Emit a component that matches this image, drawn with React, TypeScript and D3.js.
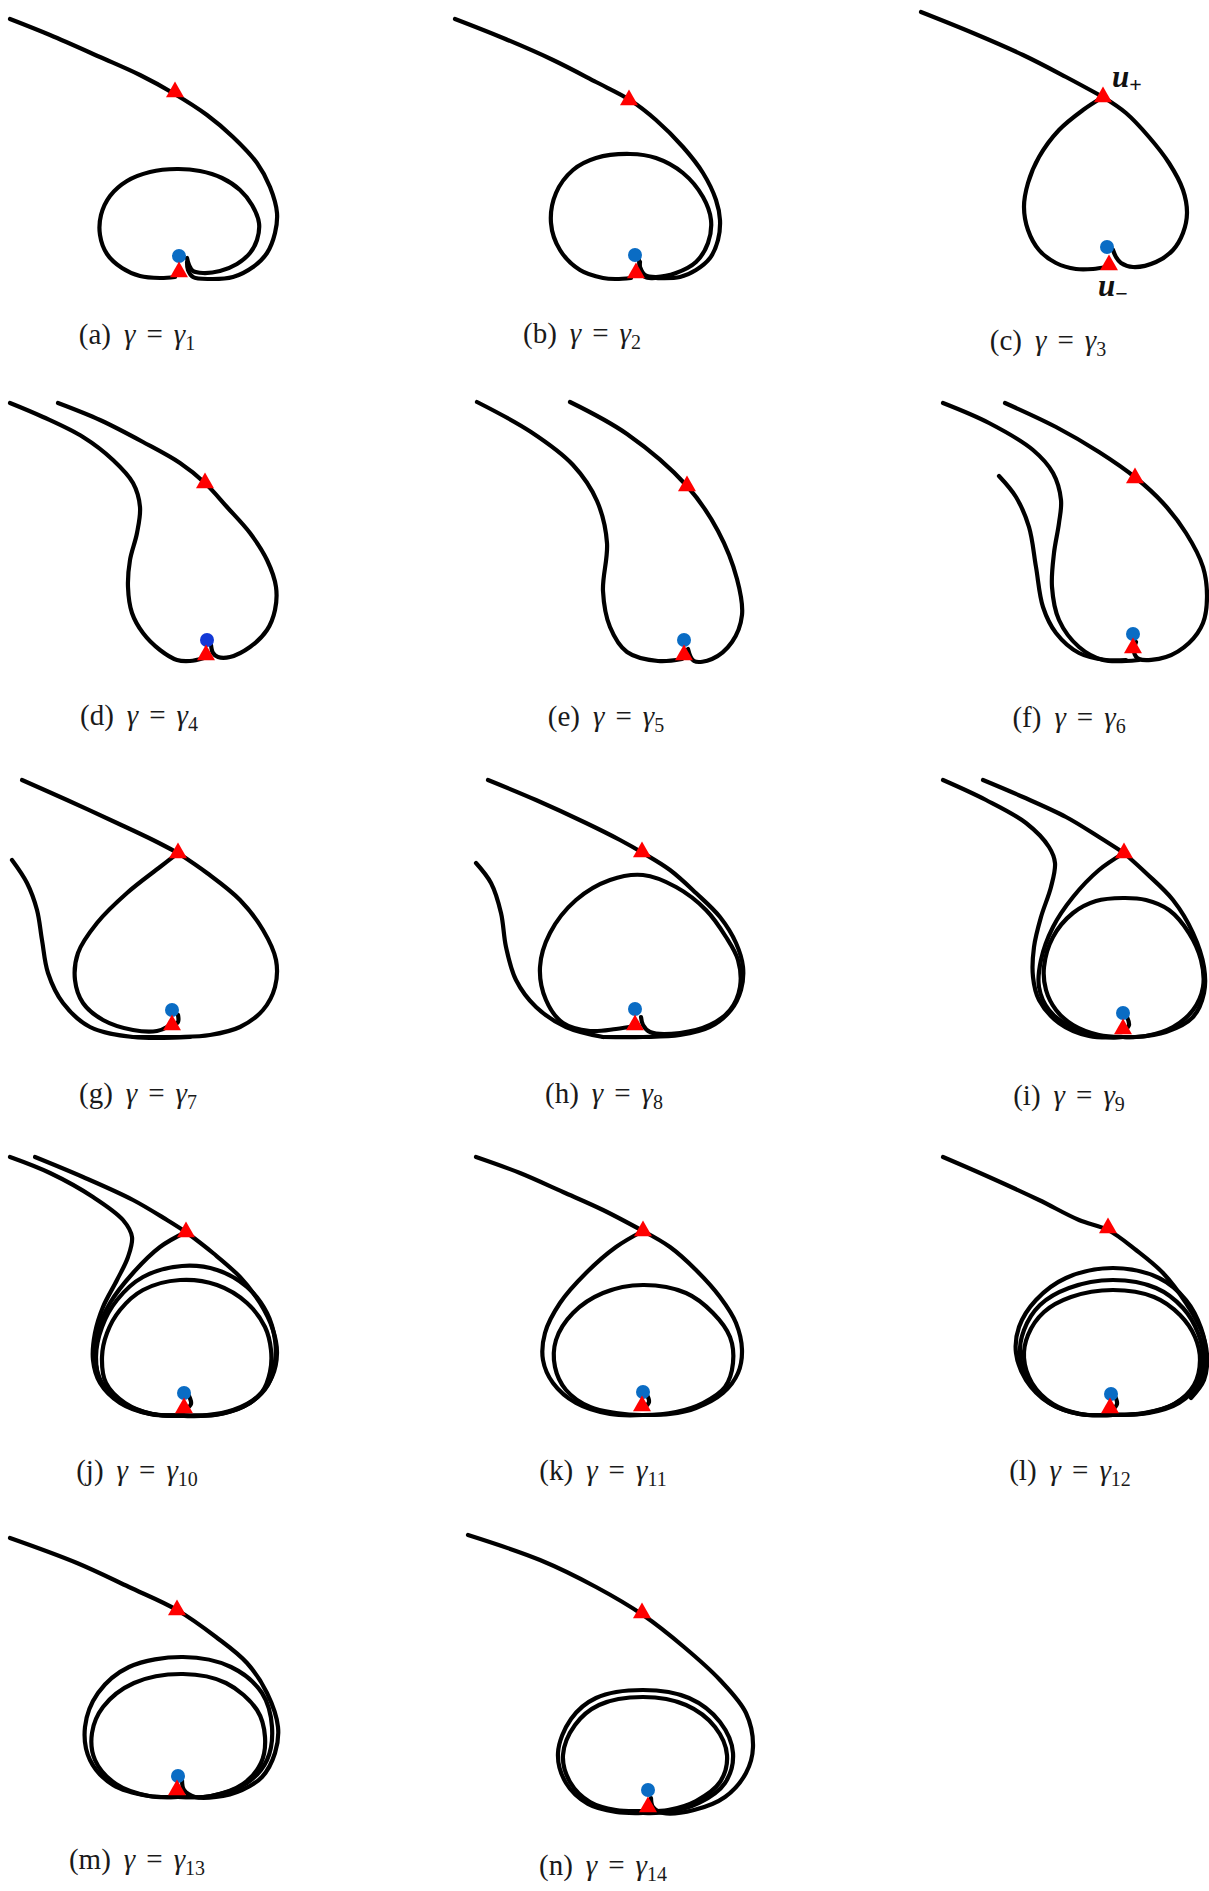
import React from "react";
import * as d3 from "d3";

type Pt = [number, number];

// ---- data: trajectories per panel (panel-local phase-plane units) ----
// (a)
const a_outer: Pt[] = [[10,19],[50,35],[100,57],[140,75],[173,93],[207,115],[233,137],[257,163],[270,187],[277,213],[275,233],[267,253],[253,267],[233,277],[210,279],[193,277],[188,270],[187,262]];
const a_inner: Pt[] = [[175,277],[160,278],[140,276],[122,268],[107,254],[100,235],[101,215],[110,196],[127,181],[150,172],[177,169],[200,171],[222,178],[240,190],[252,205],[259,223],[257,240],[250,253],[237,264],[220,271],[203,273],[193,271],[189,265],[187,258]];
const a_dot: Pt = [179,256];
const a_tris: Pt[] = [[175,92],[179,272]];
// (b)
const b_outer: Pt[] = [[52,19],[100,38],[150,60],[193,82],[227,100],[253,120],[280,147],[300,173],[313,200],[317,220],[315,240],[307,258],[293,270],[277,277],[253,278],[242,277],[237,268],[237,262]];
const b_inner: Pt[] = [[228,278],[213,279],[200,278],[177,270],[157,250],[148,223],[153,193],[170,170],[193,158],[227,154],[253,158],[280,173],[300,197],[308,220],[305,243],[293,262],[273,273],[253,277],[242,275],[237,267],[236,260]];
const b_dot: Pt = [232,255];
const b_tris: Pt[] = [[226,100],[233,273]];
// (c)
const c_in: Pt[] = [[115,12],[167,33],[217,55],[260,77],[297,97]];
const c_right: Pt[] = [[297,97],[320,113],[343,137],[363,163],[377,190],[381,213],[377,233],[367,250],[350,262],[327,267],[315,263],[310,257],[307,250]];
const c_left: Pt[] = [[297,97],[277,110],[253,130],[233,157],[222,183],[218,207],[222,230],[233,250],[250,263],[270,269],[287,269],[300,267]];
const c_dot: Pt = [301,247];
const c_tris: Pt[] = [[297,97],[303,265]];
// (d)
const d_right: Pt[] = [[58,23],[100,40],[143,62],[180,83],[205,103],[227,127],[250,153],[267,180],[276,207],[275,230],[267,250],[250,267],[230,277],[218,277],[213,273],[211,265]];
const d_left: Pt[] = [[10,23],[43,37],[83,57],[113,80],[133,103],[140,127],[137,153],[130,180],[128,207],[132,233],[143,253],[160,270],[177,280],[190,281],[204,278]];
const d_dot: Pt = [207,260];
const d_tris: Pt[] = [[205,103],[206,275]];
// (e)
const e_left: Pt[] = [[74,22],[128,52],[170,85],[194,121],[204,163],[200,211],[207,247],[224,272],[255,281],[279,279]];
const e_right: Pt[] = [[167,22],[224,54],[284,106],[315,151],[334,199],[339,235],[329,262],[309,279],[291,281],[285,269]];
const e_dot: Pt = [281,260];
const e_tris: Pt[] = [[284,106],[281,275]];
// (f)
const f_right: Pt[] = [[199,23],[250,47],[293,72],[330,98],[357,123],[380,153],[397,187],[401,217],[397,243],[383,263],[360,277],[333,279],[328,272],[330,262]];
const f_mid: Pt[] = [[137,23],[183,43],[227,70],[247,93],[255,120],[253,143],[248,173],[246,207],[253,240],[273,267],[297,280],[320,281],[333,280]];
const f_inner: Pt[] = [[193,96],[210,117],[223,147],[230,187],[237,227],[250,253],[273,273],[300,280],[320,280]];
const f_dot: Pt = [327,254];
const f_tris: Pt[] = [[329,98],[327,268]];
// (g)
const g_in: Pt[] = [[22,20],[67,40],[117,63],[153,80],[178,93]];
const g_right: Pt[] = [[178,93],[207,113],[240,140],[263,170],[276,200],[275,227],[263,250],[240,267],[210,275],[180,277],[150,277],[133,277]];
const g_left: Pt[] = [[178,93],[160,107],[127,133],[97,163],[78,193],[75,220],[83,243],[103,260],[133,270],[157,271],[167,267],[172,262]];
const g_far: Pt[] = [[12,100],[27,123],[37,150],[42,180],[48,213],[63,243],[90,267],[133,277],[190,277]];
const g_hook: Pt[] = [[172,266],[178,262],[178,255]];
const g_dot: Pt = [172,250];
const g_tris: Pt[] = [[178,93],[172,265]];
// (h)
const h_top: Pt[] = [[85,20],[133,40],[183,63],[217,80],[240,93],[267,110],[293,133],[317,157],[333,183],[340,207],[338,230],[328,250],[307,267],[277,275],[240,277],[200,277]];
const h_far: Pt[] = [[73,103],[88,123],[98,153],[103,187],[113,220],[133,247],[163,267],[200,277]];
const h_loop: Pt[] = [[232,266],[213,269],[187,271],[160,263],[143,240],[137,207],[147,173],[173,140],[207,120],[240,115],[273,127],[303,150],[323,177],[335,200],[337,227],[327,250],[307,265],[277,273],[247,272],[240,265],[238,257]];
const h_dot: Pt = [232,249];
const h_tris: Pt[] = [[239,92],[232,265]];
// (i)
const i_top: Pt[] = [[177,20],[217,37],[260,57],[293,77],[318,93]];
const i_far: Pt[] = [[137,20],[180,40],[220,63],[243,87],[249,103],[245,127],[235,157],[228,187],[227,217],[233,240],[253,263],[283,276],[317,277]];
const i_left: Pt[] = [[318,93],[293,110],[267,137],[247,167],[235,200],[233,227],[243,250],[267,268],[300,277],[317,277]];
const i_right: Pt[] = [[318,93],[340,113],[367,140],[387,173],[398,207],[398,233],[387,257],[360,272],[330,277],[317,277]];
const i_loop: Pt[] = [[317,138],[340,140],[363,150],[383,173],[395,200],[397,227],[387,250],[367,267],[340,276],[317,277],[293,275],[267,265],[250,250],[240,230],[238,207],[247,177],[267,153],[290,141]];
const i_hook: Pt[] = [[318,271],[323,265],[321,257]];
const i_dot: Pt = [317,253];
const i_tris: Pt[] = [[318,93],[317,269]];
// (j)
const j_top: Pt[] = [[35,17],[83,37],[133,60],[167,80],[186,92]];
const j_far: Pt[] = [[10,17],[50,33],[93,57],[123,80],[132,97],[128,117],[117,140],[103,167],[95,193],[93,220],[100,243],[120,263],[150,274],[183,275]];
const j_left: Pt[] = [[186,92],[160,107],[133,133],[110,163],[98,190],[95,217],[102,243],[123,263],[153,274],[183,275]];
const j_right: Pt[] = [[186,92],[213,113],[240,137],[260,163],[273,190],[277,213],[272,237],[257,257],[233,270],[207,275],[183,275]];
const j_loop1: Pt[] = [[182,126],[217,130],[247,147],[267,173],[275,200],[275,222],[268,245],[250,263],[220,274],[184,276],[150,274],[122,263],[101,243],[96,217],[102,187],[117,160],[143,137]];
const j_loop2: Pt[] = [[180,140],[217,145],[247,163],[265,187],[271,210],[270,232],[262,252],[243,267],[215,275],[184,276],[152,274],[125,263],[106,243],[102,217],[107,193],[120,170],[143,150]];
const j_hook: Pt[] = [[185,270],[191,264],[189,256]];
const j_dot: Pt = [184,253];
const j_tris: Pt[] = [[186,92],[184,268]];
// (k)
const k_top: Pt[] = [[73,17],[117,33],[160,52],[200,70],[240,91]];
const k_left: Pt[] = [[240,91],[213,107],[183,133],[157,163],[142,193],[140,220],[150,243],[173,263],[207,274],[240,275]];
const k_right: Pt[] = [[240,91],[267,107],[293,130],[317,157],[333,183],[339,210],[335,233],[320,253],[293,268],[267,274],[240,275]];
const k_loop: Pt[] = [[240,145],[283,153],[310,173],[327,197],[330,223],[322,247],[300,263],[273,272],[240,275],[213,273],[187,267],[163,250],[152,227],[153,200],[170,173],[200,153]];
const k_hook: Pt[] = [[241,268],[246,262],[244,255]];
const k_dot: Pt = [240,252];
const k_tris: Pt[] = [[240,91],[239,266]];
// (l)
const l_top: Pt[] = [[137,17],[183,37],[233,60],[273,80],[302,90],[330,110],[357,133],[380,163],[395,190],[401,215],[398,240],[385,258]];
const l_loop1: Pt[] = [[307,128],[353,138],[380,160],[395,188],[400,215],[393,243],[373,263],[343,273],[307,275],[273,274],[243,263],[220,240],[210,213],[213,187],[230,160],[260,138]];
const l_loop2: Pt[] = [[307,140],[350,148],[377,168],[392,193],[397,217],[390,244],[370,263],[340,273],[307,275],[273,274],[245,264],[223,242],[214,215],[218,190],[234,165],[263,148]];
const l_loop3: Pt[] = [[307,150],[348,157],[374,175],[389,197],[394,220],[388,245],[368,264],[338,273],[307,275],[275,274],[247,264],[226,243],[218,218],[222,195],[238,172],[265,157]];
const l_hook: Pt[] = [[306,270],[311,264],[309,256]];
const l_dot: Pt = [305,254];
const l_tris: Pt[] = [[302,88],[304,268]];
// (m)
const m_top: Pt[] = [[10,18],[77,43],[129,67],[177,90],[216,117],[247,143],[267,173],[278,207],[275,233],[262,257],[242,270],[216,277],[195,277],[184,270],[182,260]];
const m_loop1: Pt[] = [[183,137],[231,147],[262,173],[272,207],[267,240],[247,263],[211,276],[178,277],[149,276],[113,265],[90,240],[85,207],[98,173],[129,147]];
const m_loop2: Pt[] = [[183,154],[226,163],[257,190],[265,217],[261,243],[243,264],[211,276],[178,277],[149,276],[116,264],[95,240],[92,213],[103,187],[134,163]];
const m_dot: Pt = [178,256];
const m_tris: Pt[] = [[177,90],[177,270]];
// (n)
const n_top: Pt[] = [[65,15],[137,40],[193,67],[240,95],[281,127],[317,160],[343,193],[350,227],[343,253],[322,277],[291,290],[260,293],[250,287],[248,278]];
const n_loop1: Pt[] = [[240,170],[286,178],[317,202],[330,233],[322,263],[296,283],[265,292],[240,293],[213,292],[185,284],[163,263],[155,233],[168,199],[193,178]];
const n_loop2: Pt[] = [[240,177],[283,185],[312,207],[324,235],[317,262],[293,281],[265,290],[240,291],[213,290],[187,282],[167,262],[160,235],[172,205],[196,185]];
const n_dot: Pt = [245,270];
const n_tris: Pt[] = [[239,93],[245,287]];

const letters = ["a","b","c","d","e","f","g","h","i","j","k","l","m","n"];
const gammaIndex = ["1","2","3","4","5","6","7","8","9","10","11","12","13","14"];

const openCurves: Pt[][][] = [
  [a_outer, a_inner],
  [b_outer, b_inner],
  [c_in, c_right, c_left],
  [d_right, d_left],
  [e_left, e_right],
  [f_right, f_mid, f_inner],
  [g_in, g_right, g_left, g_far, g_hook],
  [h_top, h_far, h_loop],
  [i_top, i_far, i_left, i_right, i_hook],
  [j_top, j_far, j_left, j_right, j_hook],
  [k_top, k_left, k_right, k_hook],
  [l_top, l_hook],
  [m_top],
  [n_top],
];
const closedCurves: Pt[][][] = [
  [], [], [], [], [], [], [], [],
  [i_loop],
  [j_loop1, j_loop2],
  [k_loop],
  [l_loop1, l_loop2, l_loop3],
  [m_loop1, m_loop2],
  [n_loop1, n_loop2],
];
const dots: Pt[] = [a_dot,b_dot,c_dot,d_dot,e_dot,f_dot,g_dot,h_dot,i_dot,j_dot,k_dot,l_dot,m_dot,n_dot];
const tris: Pt[][] = [a_tris,b_tris,c_tris,d_tris,e_tris,f_tris,g_tris,h_tris,i_tris,j_tris,k_tris,l_tris,m_tris,n_tris];

// ---- layout ----
const origins: Pt[] = [
  [0,0],[403,0],[806,0],
  [0,380],[403,380],[806,380],
  [0,760],[403,760],[806,760],
  [0,1140],[403,1140],[806,1140],
  [0,1520],[403,1520],
];
const captionPos: Pt[] = [
  [137,344],[582,343],[1048,350],
  [139,725],[606,726],[1069,727],
  [138,1103],[604,1103],[1069,1105],
  [137,1480],[603,1480],[1070,1480],
  [137,1869],[603,1875],
];

const W = 1209, H = 1891;
const LW = 4.2;
const SERIF = "Liberation Serif, DejaVu Serif, serif";

function Panel({ idx }: { idx: number }) {
  const [ox, oy] = origins[idx];
  const xs = d3.scaleLinear().domain([0, 403]).range([ox, ox + 403]);
  const ys = d3.scaleLinear().domain([0, 380]).range([oy, oy + 380]);
  const line = d3.line<Pt>().x(d => xs(d[0])).y(d => ys(d[1])).curve(d3.curveCatmullRom.alpha(0.5));
  const lineC = d3.line<Pt>().x(d => xs(d[0])).y(d => ys(d[1])).curve(d3.curveCatmullRomClosed.alpha(0.5));
  const tri = d3.symbol().type(d3.symbolTriangle).size(140)();
  const dot = dots[idx];
  const dotColor = idx === 3 ? "#1238d6" : "#0a6cc4";
  return (
    <g>
      {closedCurves[idx].map((c, i) => (
        <path key={"c" + i} d={lineC(c) || ""} fill="none" stroke="#000" strokeWidth={LW} strokeLinejoin="round" />
      ))}
      {openCurves[idx].map((c, i) => (
        <path key={"o" + i} d={line(c) || ""} fill="none" stroke="#000" strokeWidth={LW} strokeLinejoin="round" strokeLinecap="round" />
      ))}
      <circle cx={xs(dot[0])} cy={ys(dot[1])} r={7} fill={dotColor} />
      {tris[idx].map((t, i) => (
        <path key={"t" + i} d={tri || ""} transform={`translate(${xs(t[0])},${ys(t[1])})`} fill="#ff0000" />
      ))}
    </g>
  );
}

function Caption({ idx }: { idx: number }) {
  const [x, y] = captionPos[idx];
  return (
    <text x={x} y={y} textAnchor="middle" fontFamily={SERIF} fontSize={29} fill="#1a1a1a">
      <tspan>({letters[idx]})</tspan>
      <tspan dx={13} fontStyle="italic">γ</tspan>
      <tspan dx={11}>=</tspan>
      <tspan dx={11} fontStyle="italic">γ</tspan>
      <tspan fontSize={20} dy={6}>{gammaIndex[idx]}</tspan>
    </text>
  );
}

export default function App() {
  const [cx, cy] = origins[2];
  return (
    <svg width={W} height={H} viewBox={`0 0 ${W} ${H}`} style={{ position: "absolute", left: 0, top: 0, background: "#fff", display: "block" }}>
      <rect x={0} y={0} width={W} height={H} fill="#fff" />
      {letters.map((_, i) => <Panel key={i} idx={i} />)}
      {letters.map((_, i) => <Caption key={"cap" + i} idx={i} />)}
      <g fontFamily={SERIF} fontStyle="italic" fontWeight="bold" fill="#111">
        <text x={cx + 306} y={cy + 87} fontSize={31}>u<tspan fontStyle="normal" fontSize={22} dy={5}>+</tspan></text>
        <text x={cx + 292} y={cy + 296} fontSize={31}>u<tspan fontStyle="normal" fontSize={22} dy={5}>−</tspan></text>
      </g>
    </svg>
  );
}
